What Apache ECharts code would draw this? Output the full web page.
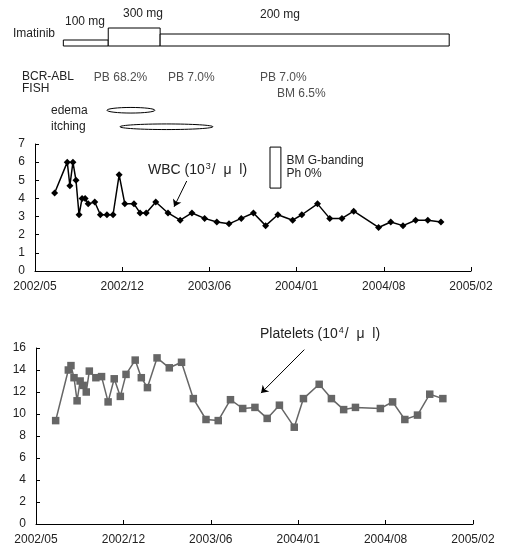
<!DOCTYPE html>
<html>
<head>
<meta charset="utf-8">
<script src="https://cdn.jsdelivr.net/npm/echarts@6/dist/echarts.min.js"></script>
<style>
  html, body { margin: 0; padding: 0; background: #fff; }
  #main { width: 505px; height: 547px; }
</style>
</head>
<body>
<div id="main"></div>
<script>
// day 0 of the time axis, ticks every 200 days
var axisStart = Date.UTC(2002, 4, 25);
var tickLabels = ['2002/05', '2002/12', '2003/06', '2004/01', '2004/08', '2005/02'];

var visitDates = ['2002-07-09', '2002-08-07', '2002-08-13', '2002-08-20', '2002-08-27', '2002-09-03',
  '2002-09-10', '2002-09-17', '2002-09-24', '2002-10-09', '2002-10-22', '2002-11-06', '2002-11-20',
  '2002-12-04', '2002-12-17', '2003-01-07', '2003-01-21', '2003-02-04', '2003-02-26', '2003-03-26',
  '2003-04-23', '2003-05-20', '2003-06-18', '2003-07-16', '2003-08-13', '2003-09-10', '2003-10-08',
  '2003-11-05', '2003-12-03', '2004-01-06', '2004-01-27', '2004-03-03', '2004-03-31', '2004-04-28',
  '2004-05-25', '2004-07-21', '2004-08-18', '2004-09-15', '2004-10-14', '2004-11-11', '2004-12-11'];
var wbc = [4.3, 6.0, 4.7, 6.0, 5.0, 3.1, 4.0, 4.0, 3.7, 3.8, 3.1, 3.1, 3.1, 5.3, 3.7, 3.7, 3.2, 3.2, 3.8, 3.2,
  2.8, 3.2, 2.9, 2.7, 2.6, 2.9, 3.2, 2.5, 3.1, 2.8, 3.1, 3.7, 2.9, 2.9, 3.3, 2.4, 2.7, 2.5, 2.8, 2.8, 2.7];
var platelets = [9.4, 14.0, 14.4, 13.3, 11.2, 13.0, 12.6, 12.0, 13.9, 13.3, 13.4, 11.1, 13.2, 11.6, 13.6, 14.9,
  13.3, 12.4, 15.1, 14.2, 14.7, 11.4, 9.5, 9.4, 11.3, 10.5, 10.6, 9.6, 10.8, 8.8, 11.4, 12.7, 11.4, 10.4,
  10.6, 10.5, 11.1, 9.5, 9.9, 11.8, 11.4];

// imatinib dosing periods
var doseStart = ['2002-07-29', '2002-11-09', '2003-03-08'];
var doseEnd = ['2002-11-09', '2003-03-08', '2004-12-30'];
var doseMg = [100, 300, 200];

// BCR-ABL FISH results
var fishRows = ['PB', 'BM'];
var fishDates = ['2002-10-07', '2003-03-26', '2003-10-23', '2003-12-01'];
var fishRow = ['PB', 'PB', 'PB', 'BM'];
var fishText = ['PB 68.2%', 'PB 7.0%', 'PB 7.0%', 'BM 6.5%'];

// side effects
var symptoms = ['edema', 'itching'];
var symptomStart = ['2002-11-06', '2002-12-06'];
var symptomEnd = ['2003-02-24', '2003-07-07'];

// bone marrow G-banding period
var gbandStart = '2003-11-15', gbandEnd = '2003-12-10';

function dayOf(s) {
  var p = s.split('-');
  return (Date.UTC(+p[0], +p[1] - 1, +p[2]) - axisStart) / 86400000;
}

var font = 'Liberation Sans, Arial, sans-serif';
var txt = '#222';

var eventRows = fishRows.concat(symptoms);

function timeAxis(gridIndex, show) {
  return {
    type: 'value', gridIndex: gridIndex, min: 0, max: 1000, interval: 200, show: show,
    axisLine: { lineStyle: { color: '#000', width: 1 } },
    axisTick: { inside: true, length: 4, lineStyle: { color: '#000' } },
    axisLabel: {
      color: txt, fontSize: 12, fontFamily: font, margin: 10,
      formatter: function (v) { return tickLabels[Math.round(v / 200)]; }
    },
    splitLine: { show: false }
  };
}
function valueAxis(gridIndex, max, interval) {
  return {
    type: 'value', gridIndex: gridIndex, min: 0, max: max, interval: interval,
    axisLine: { show: true, lineStyle: { color: '#000', width: 1 } },
    axisTick: { show: true, inside: true, length: 4, lineStyle: { color: '#000' } },
    axisLabel: { color: txt, fontSize: 12, fontFamily: font, margin: 10 },
    splitLine: { show: false }
  };
}

var richLabel = {
  a: { fill: txt, fontSize: 14, fontFamily: font },
  s: { fill: txt, fontSize: 9, fontFamily: font, verticalAlign: 'top', padding: [0, 1, 8, 1] }
};

var chart = echarts.init(document.getElementById('main'));
chart.setOption({
  animation: false,
  backgroundColor: '#fff',
  grid: [
    { left: 35, right: 34, top: 28, height: 18 },            // dose bars
    { left: 35, right: 34, top: 69, height: 66 },            // FISH + symptoms
    { left: 35, right: 34, top: 144, height: 127 },          // WBC
    { left: 36, right: 32, top: 348, height: 176 }           // platelets
  ],
  xAxis: [timeAxis(0, false), timeAxis(1, false), timeAxis(2, true), timeAxis(3, true)],
  yAxis: [
    { type: 'value', gridIndex: 0, min: 0, max: 300, show: false },
    {
      type: 'category', gridIndex: 1, data: eventRows, inverse: true,
      axisLine: { show: false }, axisTick: { show: false },
      axisLabel: {
        align: 'left', margin: -16, color: txt, fontSize: 12, fontFamily: font,
        formatter: function (v) { return symptoms.indexOf(v) >= 0 ? v : ''; }
      }
    },
    valueAxis(2, 7, 1),
    valueAxis(3, 16, 2)
  ],
  series: [
    {
      type: 'custom', xAxisIndex: 0, yAxisIndex: 0,
      data: doseMg.map(function (d, i) { return [dayOf(doseStart[i]), dayOf(doseEnd[i]), d]; }),
      renderItem: function (params, api) {
        var a = api.coord([api.value(0), api.value(2)]);
        var b = api.coord([api.value(1), 0]);
        return {
          type: 'rect',
          shape: { x: a[0], y: a[1], width: b[0] - a[0], height: b[1] - a[1] },
          style: { fill: '#fff', stroke: '#000', lineWidth: 1 }
        };
      }
    },
    {
      type: 'custom', xAxisIndex: 1, yAxisIndex: 1,
      data: symptoms.map(function (s, i) { return [dayOf(symptomStart[i]), dayOf(symptomEnd[i]), eventRows.indexOf(s)]; }),
      renderItem: function (params, api) {
        var a = api.coord([api.value(0), api.value(2)]);
        var b = api.coord([api.value(1), api.value(2)]);
        return {
          type: 'ellipse',
          shape: { cx: (a[0] + b[0]) / 2, cy: a[1], rx: (b[0] - a[0]) / 2, ry: 2.8 },
          style: { fill: '#fff', stroke: '#000', lineWidth: 1 }
        };
      }
    },
    {
      type: 'scatter', xAxisIndex: 1, yAxisIndex: 1, symbolSize: 0, silent: true,
      data: fishDates.map(function (d, i) {
        return { value: [dayOf(d), eventRows.indexOf(fishRow[i])], name: fishText[i] };
      }),
      label: {
        show: true, position: 'right', distance: 0, color: txt, fontSize: 12, fontFamily: font,
        formatter: function (p) { return p.name; }
      }
    },
    {
      name: 'WBC', type: 'line', xAxisIndex: 2, yAxisIndex: 2,
      data: visitDates.map(function (d, i) { return [dayOf(d), wbc[i]]; }),
      symbol: 'diamond', symbolSize: 7,
      itemStyle: { color: '#000' },
      lineStyle: { color: '#000', width: 1.5 },
      markArea: {
        silent: true,
        itemStyle: { color: 'rgba(0,0,0,0)', borderColor: '#000', borderWidth: 1 },
        label: {
          show: true, position: 'right', distance: 5, color: txt, fontSize: 12, fontFamily: font,
          lineHeight: 13, align: 'left'
        },
        data: [[{ name: 'BM G-banding\nPh 0%', coord: [dayOf(gbandStart), 6.83] }, { coord: [dayOf(gbandEnd), 4.57] }]]
      },
      markLine: {
        silent: true, symbol: ['none', 'arrow'], symbolSize: 7,
        lineStyle: { color: '#000', width: 1, type: 'solid' },
        label: { show: false },
        data: [[{ coord: [dayOf('2003-05-08'), 4.96] }, { coord: [dayOf('2003-04-09'), 3.54] }]]
      }
    },
    {
      name: 'Platelets', type: 'line', xAxisIndex: 3, yAxisIndex: 3,
      data: visitDates.map(function (d, i) { return [dayOf(d), platelets[i]]; }),
      symbol: 'rect', symbolSize: 7.5,
      itemStyle: { color: '#666' },
      lineStyle: { color: '#666', width: 1.5 },
      markLine: {
        silent: true, symbol: ['none', 'arrow'], symbolSize: 7,
        lineStyle: { color: '#000', width: 1, type: 'solid' },
        label: { show: false },
        data: [[{ coord: [dayOf('2004-01-29'), 15.85] }, { coord: [dayOf('2003-10-22'), 11.9] }]]
      }
    }
  ],
  graphic: [
    { type: 'text', left: 13, top: 28, style: { text: 'Imatinib', fill: txt, font: '12px ' + font } },
    { type: 'text', left: 65, top: 16, style: { text: '100 mg', fill: txt, font: '12px ' + font } },
    { type: 'text', left: 123, top: 8, style: { text: '300 mg', fill: txt, font: '12px ' + font } },
    { type: 'text', left: 260, top: 9, style: { text: '200 mg', fill: txt, font: '12px ' + font } },
    { type: 'text', left: 22, top: 71, style: { text: 'BCR-ABL\nFISH', fill: txt, font: '12px ' + font, lineHeight: 12 } },
    { type: 'text', left: 148, top: 162, style: { text: '{a|WBC (10}{s|3}{a|/  μ  l)}', rich: richLabel } },
    { type: 'text', left: 260, top: 326, style: { text: '{a|Platelets (10}{s|4}{a|/  μ  l)}', rich: richLabel } }
  ]
});
</script>
</body>
</html>
